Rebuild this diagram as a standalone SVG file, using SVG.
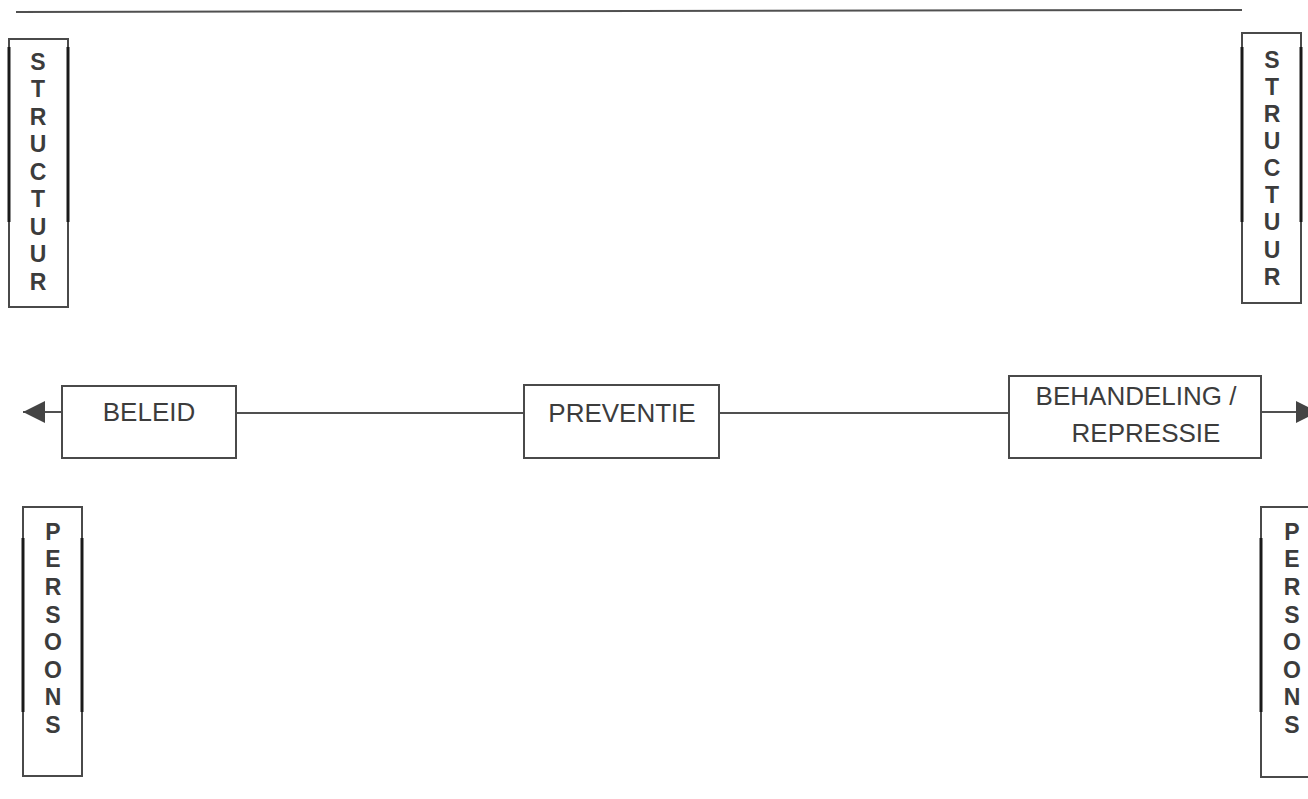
<svg xmlns="http://www.w3.org/2000/svg" width="1308" height="799" viewBox="0 0 1308 799">
<defs>
<style>
.box{fill:#fff;stroke:#4a4a4a;stroke-width:2}
.edge{stroke:#1a1a1a;stroke-width:3}
.ln{stroke:#505050;stroke-width:2;fill:none}
.v{font-family:"Liberation Sans",Arial,sans-serif;font-weight:bold;font-size:23px;fill:#3c3c3c;text-anchor:middle}
.t{font-family:"Liberation Sans",Arial,sans-serif;font-size:26px;fill:#3c3c3c;text-anchor:middle}
</style>
<marker id="arr" viewBox="0 0 10 10" refX="10" refY="5" markerWidth="23" markerHeight="22" markerUnits="userSpaceOnUse" orient="auto">
<path d="M0,0 L10,5 L0,10 z" fill="#444"/>
</marker>
</defs>
<rect width="1308" height="799" fill="#fff"/>
<line x1="16" y1="12" x2="1242" y2="10" class="ln"/>

<g id="connectors">
<line x1="62" y1="412" x2="23" y2="412" class="ln" marker-end="url(#arr)"/>
<line x1="236" y1="413" x2="524" y2="413" class="ln"/>
<line x1="719" y1="413" x2="1009" y2="413" class="ln"/>
<line x1="1261" y1="412" x2="1318" y2="412" class="ln" marker-end="url(#arr)"/>
</g>

<g id="structuur-left">
<rect x="9" y="39" width="59" height="268" class="box"/>
<line x1="9" y1="47" x2="9" y2="222" class="edge"/>
<line x1="68" y1="47" x2="68" y2="222" class="edge"/>
<text class="v" x="38" y="70">S</text>
<text class="v" x="38" y="97">T</text>
<text class="v" x="38" y="125">R</text>
<text class="v" x="38" y="152">U</text>
<text class="v" x="38" y="180">C</text>
<text class="v" x="38" y="207">T</text>
<text class="v" x="38" y="235">U</text>
<text class="v" x="38" y="262">U</text>
<text class="v" x="38" y="290">R</text>
</g>

<g id="structuur-right">
<rect x="1242" y="33" width="59" height="270" class="box"/>
<line x1="1242" y1="47" x2="1242" y2="222" class="edge"/>
<line x1="1301" y1="47" x2="1301" y2="222" class="edge"/>
<text class="v" x="1272" y="68">S</text>
<text class="v" x="1272" y="95">T</text>
<text class="v" x="1272" y="122">R</text>
<text class="v" x="1272" y="149">U</text>
<text class="v" x="1272" y="176">C</text>
<text class="v" x="1272" y="203">T</text>
<text class="v" x="1272" y="230">U</text>
<text class="v" x="1272" y="258">U</text>
<text class="v" x="1272" y="285">R</text>
</g>

<g id="beleid">
<rect x="62" y="386" width="174" height="72" class="box"/>
<text class="t" x="149" y="421">BELEID</text>
</g>

<g id="preventie">
<rect x="524" y="385" width="195" height="73" class="box"/>
<text class="t" x="622" y="422">PREVENTIE</text>
</g>

<g id="behandeling">
<rect x="1009" y="376" width="252" height="82" class="box"/>
<text class="t" x="1136" y="405">BEHANDELING /</text>
<text class="t" x="1146" y="442">REPRESSIE</text>
</g>

<g id="persoons-left">
<rect x="23" y="507" width="59" height="269" class="box"/>
<line x1="23" y1="538" x2="23" y2="712" class="edge"/>
<line x1="82" y1="538" x2="82" y2="712" class="edge"/>
<text class="v" x="53" y="540">P</text>
<text class="v" x="53" y="567">E</text>
<text class="v" x="53" y="595">R</text>
<text class="v" x="53" y="623">S</text>
<text class="v" x="53" y="650">O</text>
<text class="v" x="53" y="678">O</text>
<text class="v" x="53" y="705">N</text>
<text class="v" x="53" y="733">S</text>
</g>

<g id="persoons-right">
<rect x="1261" y="507" width="60" height="270" class="box"/>
<line x1="1261" y1="538" x2="1261" y2="712" class="edge"/>
<text class="v" x="1292" y="540">P</text>
<text class="v" x="1292" y="567">E</text>
<text class="v" x="1292" y="595">R</text>
<text class="v" x="1292" y="623">S</text>
<text class="v" x="1292" y="650">O</text>
<text class="v" x="1292" y="678">O</text>
<text class="v" x="1292" y="705">N</text>
<text class="v" x="1292" y="733">S</text>
</g>
</svg>
